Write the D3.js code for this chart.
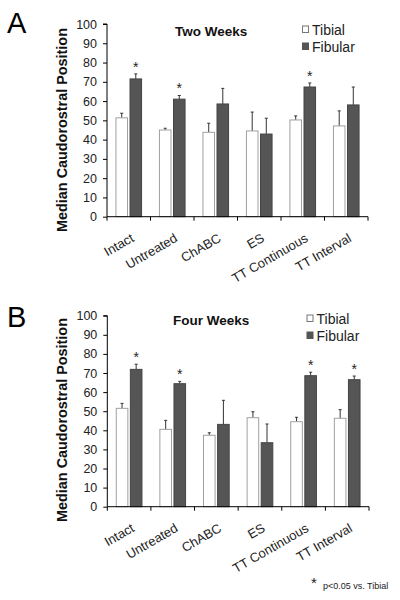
<!DOCTYPE html>
<html>
<head>
<meta charset="utf-8">
<script src="https://cdn.jsdelivr.net/npm/d3@7"></script>
<style>
  html, body { margin: 0; padding: 0; background: #fff; }
  svg { display: block; font-family: Arial, "Liberation Sans", sans-serif; }
</style>
</head>
<body>
<svg id="chart" width="400" height="600"></svg>
<script>
// ---- data ----
const categories = ["Intact", "Untreated", "ChABC", "ES", "TT Continuous", "TT Interval"];
const seriesNames = ["Tibial", "Fibular"];
const yTicks = [0, 10, 20, 30, 40, 50, 60, 70, 80, 90, 100];

// Two weeks
const twoTibial      = [51.3, 45.0, 43.8, 44.5, 50.2, 47.1];
const twoTibialErr   = [2.4, 0.9, 4.7, 9.8, 2.1, 7.8];
const twoFibular     = [71.5, 61.0, 58.5, 42.9, 67.3, 58.0];
const twoFibularErr  = [2.6, 1.9, 8.1, 8.2, 2.1, 9.3];
const twoSig         = [true, true, false, false, true, false];

// Four weeks
const fourTibial     = [51.5, 40.5, 37.4, 46.6, 44.5, 46.3];
const fourTibialErr  = [2.6, 4.7, 1.3, 3.1, 2.3, 4.5];
const fourFibular    = [71.9, 64.4, 43.1, 33.5, 68.6, 66.5];
const fourFibularErr = [2.7, 1.2, 12.6, 9.8, 1.8, 1.9];
const fourSig        = [true, true, false, false, true, true];

const svg = d3.select("#chart");

function panel(opts) {
  const { letter, title, tib, tibErr, fib, fibErr, sig, yTop, yBottom, xLeft, xRight, letterPos, titlePos, legendPos, yTitleCenter } = opts;
  const g = svg.append("g");

  const y = d3.scaleLinear().domain([0, 100]).range([yBottom, yTop]);
  const x0 = d3.scaleBand().domain(categories).range([xLeft, xRight]).paddingInner(0).paddingOuter(0);
  const x1 = d3.scaleBand().domain(seriesNames).range([0, x0.bandwidth()]).paddingInner(0.107).paddingOuter(0.6);

  const rows = categories.map((c, i) => ({
    cat: c,
    vals: [
      { s: "Tibial", v: tib[i], e: tibErr[i] },
      { s: "Fibular", v: fib[i], e: fibErr[i] }
    ],
    sig: sig[i]
  }));

  const grp = g.selectAll("g.grp").data(rows).enter().append("g")
    .attr("transform", d => `translate(${x0(d.cat)},0)`);

  // error bars (upward only)
  grp.selectAll("g.err").data(d => d.vals).enter().append("g").each(function(d) {
    const cx = x1(d.s) + x1.bandwidth() / 2;
    const sel = d3.select(this);
    sel.append("line")
      .attr("x1", cx).attr("x2", cx)
      .attr("y1", y(d.v)).attr("y2", y(d.v + d.e))
      .attr("stroke", "#333").attr("stroke-width", 1);
    sel.append("line")
      .attr("x1", cx - 1.5).attr("x2", cx + 1.5)
      .attr("y1", y(d.v + d.e)).attr("y2", y(d.v + d.e))
      .attr("stroke", "#333").attr("stroke-width", 1);
  });

  grp.selectAll("rect").data(d => d.vals).enter().append("rect")
    .attr("x", d => x1(d.s) + 0.5)
    .attr("y", d => y(d.v))
    .attr("width", x1.bandwidth() - 1)
    .attr("height", d => y(0) - y(d.v))
    .attr("fill", d => d.s === "Tibial" ? "#ffffff" : "#555555")
    .attr("stroke", d => d.s === "Tibial" ? "#a0a0a0" : "#444444")
    .attr("stroke-width", 1);

  // significance asterisks
  grp.filter(d => d.sig).append("text")
    .attr("x", d => x1("Fibular") + x1.bandwidth() / 2)
    .attr("y", d => y(d.vals[1].v + d.vals[1].e) - 2)
    .attr("text-anchor", "middle")
    .attr("font-size", 14)
    .attr("fill", "#222")
    .text("*");

  // y axis
  const yAxis = d3.axisLeft(y).tickValues(yTicks).tickSize(4).tickPadding(6);
  const ya = g.append("g").attr("transform", `translate(${xLeft},0)`).call(yAxis);
  ya.select(".domain").attr("stroke", "#000").attr("d", `M-4,${yTop}H0V${yBottom}`);
  ya.selectAll(".tick line").attr("stroke", "#000");
  ya.selectAll(".tick text").attr("font-size", 12.5).attr("fill", "#222")
    .attr("font-family", "Arial, 'Liberation Sans', sans-serif");

  // x axis line & ticks at category boundaries
  g.append("line")
    .attr("x1", xLeft).attr("x2", xRight)
    .attr("y1", y(0)).attr("y2", y(0))
    .attr("stroke", "#000");
  const bounds = categories.map(c => x0(c)).concat([x0.range()[1]]);
  g.selectAll("line.xt").data(bounds).enter().append("line")
    .attr("x1", d => d).attr("x2", d => d)
    .attr("y1", y(0)).attr("y2", y(0) + 4)
    .attr("stroke", "#000");

  // x labels rotated
  g.selectAll("text.xl").data(categories).enter().append("text")
    .attr("transform", d => `translate(${x0(d) + x0.bandwidth() / 2 + 1.5},${y(0) + 16}) rotate(-30)`)
    .attr("text-anchor", "end")
    .attr("dy", "0.71em")
    .attr("font-size", 13)
    .attr("fill", "#222")
    .text(d => d);

  // y title
  g.append("text")
    .attr("transform", `translate(62,${yTitleCenter}) rotate(-90)`)
    .attr("text-anchor", "middle")
    .attr("dominant-baseline", "central")
    .attr("font-size", 14.4)
    .attr("font-weight", "bold")
    .attr("fill", "#111")
    .text("Median Caudorostral Position");

  // panel letter
  g.append("text")
    .attr("x", letterPos[0]).attr("y", letterPos[1])
    .attr("font-size", 29)
    .attr("fill", "#000")
    .text(letter);

  // title
  g.append("text")
    .attr("x", titlePos[0]).attr("y", titlePos[1])
    .attr("dominant-baseline", "central")
    .attr("font-size", 13.5)
    .attr("font-weight", "bold")
    .attr("fill", "#111")
    .text(title);

  // legend
  const lg = g.selectAll("g.lg").data(seriesNames).enter().append("g")
    .attr("transform", (d, i) => `translate(${legendPos[0]},${legendPos[1] + i * 17})`);
  lg.append("rect")
    .attr("x", 0.5).attr("y", -3.5).attr("width", 6).attr("height", 6.5)
    .attr("fill", d => d === "Tibial" ? "#fff" : "#555")
    .attr("stroke", d => d === "Tibial" ? "#777" : "#555");
  lg.append("text")
    .attr("x", 10).attr("y", 0)
    .attr("dominant-baseline", "central")
    .attr("font-size", 14)
    .attr("fill", "#222")
    .text(d => d);
}

panel({
  letter: "A", title: "Two Weeks",
  tib: twoTibial, tibErr: twoTibialErr, fib: twoFibular, fibErr: twoFibularErr, sig: twoSig,
  yTop: 24, yBottom: 216.7, xLeft: 107, xRight: 368,
  letterPos: [7, 33], titlePos: [175, 31], legendPos: [302, 29.5], yTitleCenter: 130
});

panel({
  letter: "B", title: "Four Weeks",
  tib: fourTibial, tibErr: fourTibialErr, fib: fourFibular, fibErr: fourFibularErr, sig: fourSig,
  yTop: 315.7, yBottom: 506.7, xLeft: 107.3, xRight: 369,
  letterPos: [7, 327], titlePos: [173, 320], legendPos: [306.5, 318.5], yTitleCenter: 420
});

// footnote
svg.append("text").attr("x", 311).attr("y", 588)
  .attr("font-size", 15).attr("fill", "#222").text("*");
svg.append("text").attr("x", 323).attr("y", 586)
  .attr("dominant-baseline", "central")
  .attr("font-size", 9).attr("fill", "#222").text("p<0.05 vs. Tibial");
</script>
</body>
</html>
